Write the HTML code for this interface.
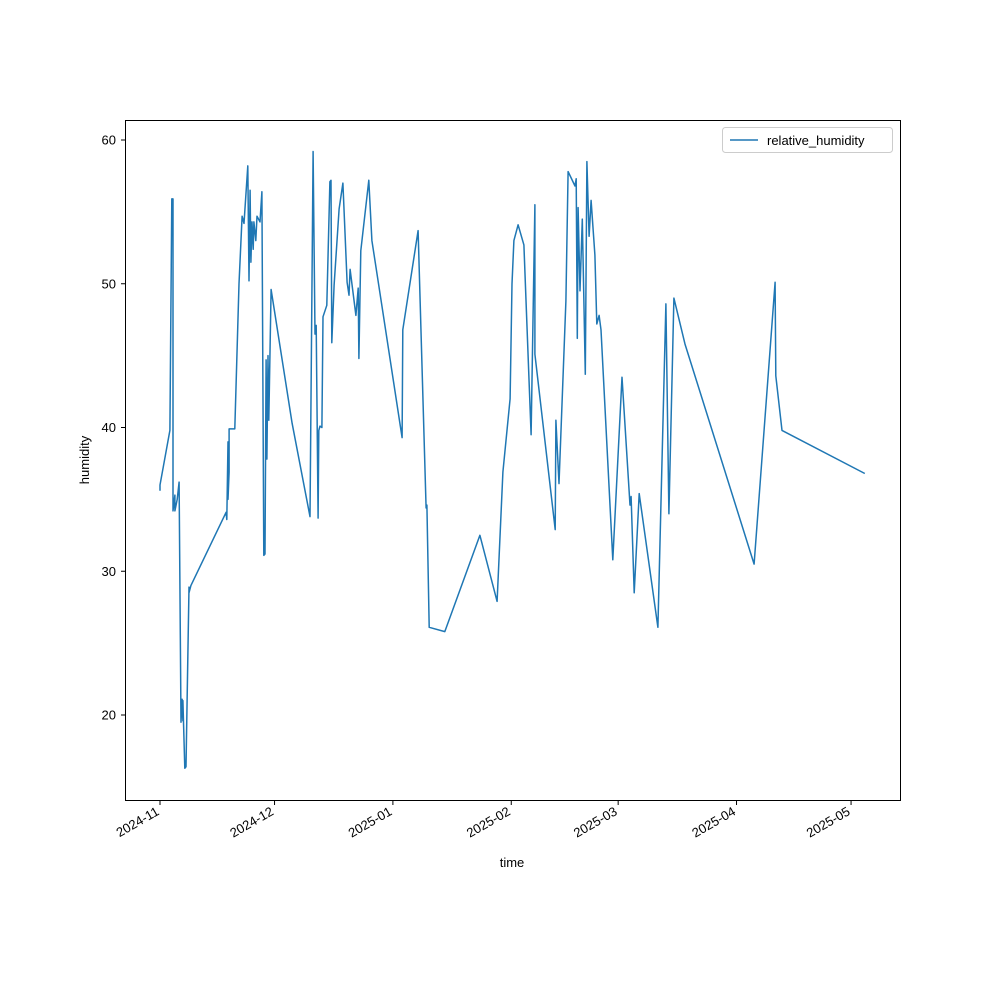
<!DOCTYPE html>
<html><head><meta charset="utf-8"><style>
body{margin:0;background:#fff;font-family:"Liberation Sans",sans-serif}
svg text{font-family:"Liberation Sans",sans-serif;font-size:13px;fill:#000}
</style></head><body>
<svg id="chart" width="1000" height="1000">
<rect x="0" y="0" width="1000" height="1000" fill="#fff"/>
</svg>
<script>
const tickDays=[0,30,61,92,120,151,181];
const tickLabels=["2024-11","2024-12","2025-01","2025-02","2025-03","2025-04","2025-05"];
const yTicks=[20,30,40,50,60];
const days=[0,0,2.6,3.1,3.4,3.4,3.9,3.9,4.5,5,5.5,5.8,6,6,6.5,6.8,7.6,7.6,8.1,17.3,17.5,17.8,17.8,18.1,18.1,19.6,20.7,21.5,22,23,23.3,23.6,23.8,24.1,24.4,24.6,25.1,25.4,26.2,26.7,27.2,27.5,27.8,28,28.3,28.5,29.1,34.6,39.3,40.1,40.6,40.9,41.4,41.6,41.9,42.4,42.7,43.7,44.5,44.8,45,45.6,46.9,47.9,49,49.5,49.8,51.3,51.9,52.1,52.6,54.7,55.5,63.4,63.6,67.6,69.7,69.9,70.5,74.6,83.8,88.3,89.8,91.7,92.2,92.7,93.8,95.3,97.2,98.2,98.2,103.5,103.7,104.5,106.3,106.9,108.7,109,109.3,109.5,110,110.6,111.4,111.8,112.4,112.9,113.9,114.4,115,115.5,118.6,121,123.1,123.4,124.2,125.5,130.4,132.5,133.3,134.6,137.5,155.6,161.1,161.3,162.9,184.6];
const humidity=[35.6,36,39.8,55.9,55.9,34.2,35.3,34.2,35,36.2,19.5,21.1,19.6,21,16.3,16.4,28.9,28.5,29,34.1,33.6,39,35,36.9,39.9,39.9,50,54.7,54.2,58.2,50.2,56.5,51.5,54.3,52.4,54.3,53,54.7,54.3,56.4,31.1,31.2,44.7,37.8,45,40.5,49.6,40.3,33.8,59.2,46.5,47.1,33.7,39.8,40.1,40,47.7,48.5,57.1,57.2,45.9,49.9,55.2,57,50.1,49.2,51,47.8,49.7,44.8,52.3,57.2,53,39.3,46.8,53.7,34.4,34.6,26.1,25.8,32.5,27.9,36.9,42,50,53,54.1,52.7,39.5,55.5,45.1,32.9,40.5,36.1,48.8,57.8,56.8,57.3,46.2,55.3,49.5,54.5,43.7,58.5,53.3,55.8,52,47.2,47.8,46.8,30.8,43.5,34.6,35.2,28.5,35.4,26.1,48.6,34,49,45.8,30.5,50.1,43.6,39.8,36.8];
const NS="http://www.w3.org/2000/svg";
const svg=document.getElementById('chart');
const X=d=>160+d*3.818;
const Y=v=>715-(v-20)*14.375;
function mk(t,a,p){const e=document.createElementNS(NS,t);for(const k in a)e.setAttribute(k,a[k]);(p||svg).appendChild(e);return e;}
// series
let dstr=days.map((d,i)=>(i?'L':'M')+X(d).toFixed(1)+' '+Y(humidity[i]).toFixed(1)).join(' ');
const line=mk('path',{d:dstr,fill:'none',stroke:'#1f77b4','stroke-width':1.5,'stroke-linejoin':'round'});


// frame
const frame=mk('rect',{x:125.5,y:120.5,width:775,height:680,fill:'none',stroke:'#000','stroke-width':1});


yTicks.forEach(v=>{
  const y=Y(v);
  mk('line',{x1:121,x2:125,y1:y,y2:y,stroke:'#000'});
  const t=mk('text',{x:116,y:y+4.5,'text-anchor':'end'});t.textContent=v;
  
  
});
tickDays.forEach((d,i)=>{
  const x=X(d);
  mk('line',{x1:x,x2:x,y1:801,y2:805,stroke:'#000'});
  const t=mk('text',{x:x,y:814,'text-anchor':'end',transform:`rotate(-30 ${x} 814)`});t.textContent=tickLabels[i];
  
  
});
const xt=mk('text',{x:512,y:867,'text-anchor':'middle'});xt.textContent='time';


const yt=mk('text',{x:89,y:460,'text-anchor':'middle',transform:'rotate(-90 89 460)'});yt.textContent='humidity';


// legend
const lg=mk('g',{});


mk('rect',{x:722.5,y:127.5,width:170,height:25,rx:3,fill:'#fff',stroke:'#ccc'},lg);
mk('line',{x1:730,x2:758,y1:140,y2:140,stroke:'#1f77b4','stroke-width':1.5},lg);
const lt=mk('text',{x:767,y:145},lg);lt.textContent='relative_humidity';


</script>
</body></html>
